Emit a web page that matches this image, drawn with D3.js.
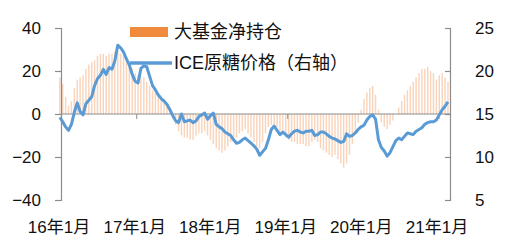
<!DOCTYPE html>
<html>
<head>
<meta charset="utf-8">
<script src="https://cdn.jsdelivr.net/npm/d3@7"></script>
<style>
  body { margin: 0; background: #fff; }
  text { font-family: 'Liberation Sans', 'Noto Sans CJK SC', sans-serif; fill: #111; }
</style>
</head>
<body>
<div id="viz_div"></div>
<script>
// DATA (biweekly, starting 2016-01-05)
// ---------------------------------------------------------------------------------------------------------------------------------
const startDate = "2016-01-05";
const stepDays = 14;

// 大基金净持仓 (left axis)
const fundNet = [
  17, 14, 8, 4, 6, 12, 16, 17, 18, 21, 23, 24, 25, 27, 28, 28, 27, 28, 28, 29,
  29, 28, 27, 25, 23, 21, 19, 18, 17, 17, 15, 13, 11, 10, 9, 8, 7, 5, 3, -1,
  -5, -8, -10, -11, -11, -12, -12, -10, -9, -9, -8, -10, -12, -14, -16, -17, -18, -17, -15, -13,
  -12, -11, -9, -8, -7, -9, -11, -13, -15, -16, -13, -9, -6, -5, -5, -6, -8, -9, -11, -12,
  -13, -13, -14, -14, -14, -15, -15, -13, -12, -13, -16, -17, -18, -19, -20, -19, -21, -23, -25, -23,
  -19, -14, -9, -4, 2, 7, 10, 12, 13, 9, 2, -4, -6, -7, -5, -3, 0, 3, 6, 9,
  11, 13, 15, 17, 19, 21, 21, 22, 20, 19, 16, 18, 19, 17, 15
];

// ICE原糖价格 (right axis)
const icePrice = [
  14.6, 14.1, 13.5, 13.1, 13.8, 15.2, 16.3, 15.3, 14.9, 16.2, 16.6, 17.0, 18.3, 19.1, 19.5, 20.2, 19.6, 20.4, 20.2, 21.2,
  23.0, 22.7, 22.2, 21.4, 20.7, 19.6, 18.8, 18.6, 20.3, 20.6, 20.5, 19.4, 18.3, 17.8, 17.2, 16.8, 16.5, 16.1, 15.5, 14.8,
  14.2, 14.0, 15.0, 14.1, 14.2, 14.3, 14.0, 14.2, 14.7, 14.9, 15.1, 14.4, 14.8, 15.1, 13.8, 13.5, 13.3, 12.9, 12.7, 12.5,
  12.0, 11.6, 11.7, 12.0, 12.2, 11.9, 11.6, 11.3, 10.9, 10.2, 10.6, 11.0, 12.0, 13.2, 13.6, 13.1, 12.6, 12.9, 12.6, 12.3,
  12.7, 13.0, 13.1, 12.9, 12.8, 13.0, 13.0, 13.1, 12.5, 12.6, 12.9, 12.9, 12.7, 12.4, 12.2, 12.1, 11.9, 11.7, 11.8, 12.7,
  12.4, 12.5, 12.8, 13.2, 13.5, 13.7, 14.3, 14.7, 14.9, 14.4, 12.0, 11.1, 10.7, 10.1, 10.5, 11.2, 11.9, 12.2, 12.0, 12.4,
  12.8, 12.7, 12.6, 13.0, 13.2, 13.4, 13.8, 14.0, 14.1, 14.1, 14.3, 14.9, 15.5, 15.9, 16.4
];

const xTickLabels = ["16年1月", "17年1月", "18年1月", "19年1月", "20年1月", "21年1月"];
const xTickDates = ["2016-01-01", "2017-01-01", "2018-01-01", "2019-01-01", "2020-01-01", "2021-01-01"];
const xMarkDates = ["2017-01-01", "2019-01-01", "2021-01-01"];
const leftTicks = [-40, -20, 0, 20, 40];
const rightTicks = [5, 10, 15, 20, 25];
const legendLabels = ["大基金净持仓", "ICE原糖价格（右轴）"];

// SCALES
// ---------------------------------------------------------------------------------------------------------------------------------
const width = 513, height = 246;
const plot = { left: 61, right: 450, top: 28, bottom: 200 };
const parse = d3.timeParse("%Y-%m-%d");
const dates = fundNet.map((d, i) => d3.timeDay.offset(parse(startDate), i * stepDays));

const x = d3.scaleTime([parse("2016-01-01"), parse("2021-01-01")], [59, 437]);
const yLeft = d3.scaleLinear([-40, 40], [plot.bottom, plot.top]);
const yRight = d3.scaleLinear([5, 25], [plot.bottom, plot.top]);

const svg = d3.select("#viz_div")
  .append("svg")
  .attr("width", width)
  .attr("height", height);

// BARS
// ---------------------------------------------------------------------------------------------------------------------------------
const barW = (x(dates[1]) - x(dates[0])) * 0.5;
svg.append("g")
  .selectAll("rect")
  .data(fundNet)
  .enter()
  .append("rect")
  .attr("x", (d, i) => x(dates[i]) - barW / 2)
  .attr("width", barW)
  .attr("y", d => yLeft(Math.max(0, d)))
  .attr("height", d => Math.abs(yLeft(d) - yLeft(0)))
  .style("fill", "#F4B183")
  .style("opacity", 0.55);

// ZERO LINE + CATEGORY MARKS
// ---------------------------------------------------------------------------------------------------------------------------------
svg.append("line")
  .attr("x1", plot.left).attr("x2", plot.right)
  .attr("y1", yLeft(0)).attr("y2", yLeft(0))
  .style("stroke", "#8c8c8c").style("stroke-width", 1.2);

svg.append("g")
  .selectAll("line")
  .data(xMarkDates)
  .enter()
  .append("line")
  .attr("x1", d => x(parse(d)) + 2).attr("x2", d => x(parse(d)) + 2)
  .attr("y1", yLeft(0)).attr("y2", yLeft(0) + 5)
  .style("stroke", "#8c8c8c").style("stroke-width", 1);

// LINE
// ---------------------------------------------------------------------------------------------------------------------------------
const line = d3.line()
  .x((d, i) => x(dates[i]))
  .y(d => yRight(d));

svg.append("path")
  .datum(icePrice)
  .attr("d", line)
  .style("fill", "none")
  .style("stroke", "#5B9BD5")
  .style("stroke-width", 3)
  .style("stroke-linejoin", "round");

// AXES
// ---------------------------------------------------------------------------------------------------------------------------------
const axL = svg.append("g")
  .attr("transform", `translate(${plot.left},0)`)
  .call(d3.axisLeft(yLeft).tickValues(leftTicks).tickSize(6).tickPadding(14).tickFormat(d3.format("d")));

const axR = svg.append("g")
  .attr("transform", `translate(${plot.right},0)`)
  .call(d3.axisRight(yRight).tickValues(rightTicks).tickSize(-5).tickPadding(25).tickFormat(d3.format("d")));

[axL, axR].forEach(ax => {
  ax.select(".domain").style("stroke", "#8c8c8c").style("stroke-width", 1.2);
  ax.selectAll(".tick line").style("stroke", "#8c8c8c").style("stroke-width", 1.2);
  ax.selectAll(".tick text").style("font-size", "17px").style("fill", "#111");
});

svg.append("g")
  .selectAll("text")
  .data(xTickLabels)
  .enter()
  .append("text")
  .attr("x", (d, i) => x(parse(xTickDates[i])))
  .attr("y", 233)
  .attr("text-anchor", "middle")
  .style("font-size", "17px")
  .text(d => d);

// LEGEND
// ---------------------------------------------------------------------------------------------------------------------------------
svg.append("rect")
  .attr("x", 130).attr("y", 27)
  .attr("width", 38).attr("height", 10)
  .style("fill", "#F08A3C");

svg.append("line")
  .attr("x1", 130).attr("x2", 172)
  .attr("y1", 63).attr("y2", 63)
  .style("stroke", "#5B9BD5").style("stroke-width", 3.5);

svg.append("g")
  .selectAll("text")
  .data(legendLabels)
  .enter()
  .append("text")
  .attr("x", 174)
  .attr("y", (d, i) => 32 + i * 31)
  .attr("dy", "0.36em")
  .style("font-size", "18px")
  .text(d => d);
</script>
</body>
</html>
